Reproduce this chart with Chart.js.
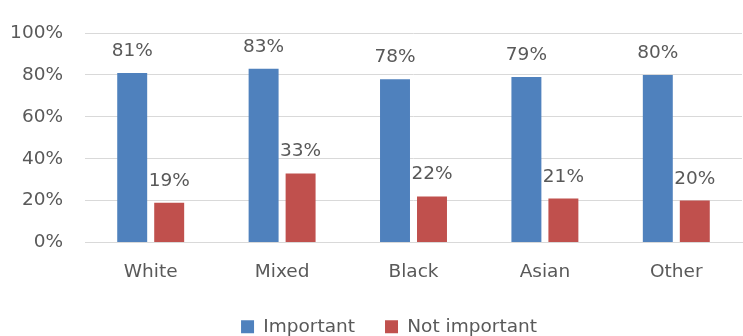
<!DOCTYPE html>
<html>
<head>
<meta charset="utf-8">
<script src="https://cdn.jsdelivr.net/npm/chart.js@4/dist/chart.umd.min.js"></script>
<style>
  html, body { margin: 0; padding: 0; background: #fff; }
  #wrap { width: 743px; height: 336px; }
</style>
</head>
<body>
<div id="wrap"><canvas id="chart" width="743" height="336"></canvas></div>
<script>
// chart data
const categories = ['White', 'Mixed', 'Black', 'Asian', 'Other'];
const importantValues = [81, 83, 78, 79, 80];
const notImportantValues = [19, 33, 22, 21, 20];
const yTicks = [0, 20, 40, 60, 80, 100];

const textColor = '#595959';
const fontFamily = '"DejaVu Sans", sans-serif';
const fontSize = 18.5;

// draws the value labels above each bar
const valueLabels = {
    id: 'valueLabels',
    afterDatasetsDraw(chart) {
        const ctx = chart.ctx;
        ctx.save();
        ctx.font = fontSize + 'px ' + fontFamily;
        ctx.fillStyle = textColor;
        ctx.textAlign = 'center';
        ctx.textBaseline = 'alphabetic';
        chart.data.datasets.forEach((ds, i) => {
            chart.getDatasetMeta(i).data.forEach((bar, j) => {
                ctx.fillText(ds.data[j] + '%', bar.x, bar.y - 17);
            });
        });
        ctx.restore();
    }
};

// nudge the legend a bit to the right, like the original
const legendShift = {
    id: 'legendShift',
    afterLayout(chart) {
        if (chart.legend) {
            chart.legend.left += 18;
            chart.legend.right += 18;
        }
    }
};

const ctx = document.getElementById('chart').getContext('2d');
new Chart(ctx, {
    type: 'bar',
    data: {
        labels: categories,
        datasets: [{
            label: 'Important',
            data: importantValues,
            backgroundColor: '#4F81BD',
            categoryPercentage: 0.563,
            barPercentage: 0.81
        }, {
            label: 'Not important',
            data: notImportantValues,
            backgroundColor: '#C0504D',
            categoryPercentage: 0.563,
            barPercentage: 0.81
        }]
    },
    options: {
        responsive: false,
        animation: false,
        layout: { padding: { top: 22, right: 1, left: 0, bottom: -10 } },
        plugins: {
            legend: {
                position: 'bottom',
                labels: {
                    color: textColor,
                    font: { size: fontSize, family: fontFamily },
                    boxWidth: 13,
                    boxHeight: 13,
                    padding: 30
                }
            },
            tooltip: { enabled: false }
        },
        scales: {
            x: {
                afterFit(scale) { scale.height = 45; },
                grid: { display: false, drawTicks: false },
                border: { display: true, color: '#D9D9D9', width: 1 },
                ticks: {
                    color: textColor,
                    font: { size: fontSize, family: fontFamily },
                    padding: 19
                }
            },
            y: {
                min: 0,
                max: 100,
                afterBuildTicks(scale) {
                    scale.ticks = yTicks.map(v => ({ value: v }));
                },
                afterFit(scale) { scale.width = 85; },
                grid: { color: '#D9D9D9', drawTicks: false },
                border: { display: false },
                ticks: {
                    color: textColor,
                    font: { size: fontSize, family: fontFamily },
                    padding: 22,
                    callback: v => v + '%'
                }
            }
        }
    },
    plugins: [valueLabels, legendShift]
});
</script>
</body>
</html>
